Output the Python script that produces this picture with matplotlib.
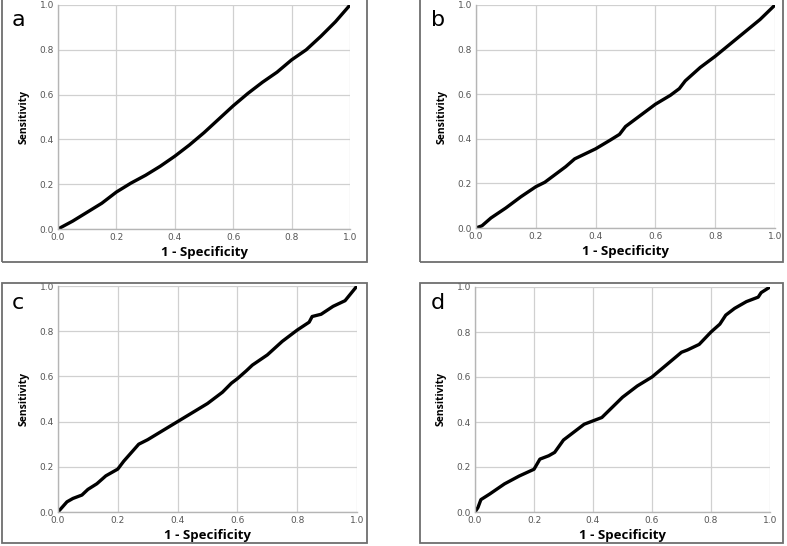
import matplotlib.pyplot as plt
from matplotlib.patches import Rectangle

# ── ROC curve points ──────────────────────────────────────────────────────────
fpr_a = [0.0, 0.05, 0.10, 0.15, 0.20, 0.25, 0.30, 0.35, 0.40, 0.45, 0.50,
         0.55, 0.60, 0.65, 0.70, 0.75, 0.80, 0.85, 0.90, 0.95, 1.0]
tpr_a = [0.0, 0.035, 0.075, 0.115, 0.165, 0.205, 0.24, 0.28, 0.325, 0.375, 0.43,
         0.49, 0.55, 0.605, 0.655, 0.70, 0.755, 0.80, 0.86, 0.925, 1.0]

fpr_b = [0.0, 0.02, 0.05, 0.10, 0.15, 0.20, 0.23, 0.30, 0.33, 0.40, 0.45, 0.48,
         0.50, 0.55, 0.60, 0.65, 0.68, 0.70, 0.75, 0.80, 0.85, 0.90, 0.95, 1.0]
tpr_b = [0.0, 0.01, 0.045, 0.09, 0.14, 0.185, 0.205, 0.275, 0.31, 0.355, 0.395, 0.42,
         0.455, 0.505, 0.555, 0.595, 0.625, 0.66, 0.72, 0.77, 0.825, 0.88, 0.935, 1.0]

fpr_c = [0.0, 0.01, 0.03, 0.05, 0.08, 0.10, 0.13, 0.16, 0.20, 0.22, 0.25, 0.27,
         0.30, 0.35, 0.40, 0.45, 0.50, 0.55, 0.58, 0.60, 0.63, 0.65, 0.70, 0.75,
         0.80, 0.84, 0.85, 0.88, 0.92, 0.96, 1.0]
tpr_c = [0.0, 0.015, 0.045, 0.06, 0.075, 0.10, 0.125, 0.16, 0.19, 0.225, 0.27, 0.30,
         0.32, 0.36, 0.40, 0.44, 0.48, 0.53, 0.57, 0.59, 0.625, 0.65, 0.695, 0.755,
         0.805, 0.84, 0.865, 0.875, 0.91, 0.935, 1.0]

fpr_d = [0.0, 0.01, 0.02, 0.05, 0.10, 0.15, 0.20, 0.22, 0.25, 0.27, 0.30, 0.35,
         0.37, 0.40, 0.43, 0.50, 0.55, 0.60, 0.65, 0.70, 0.72, 0.76, 0.80, 0.83,
         0.85, 0.88, 0.92, 0.96, 0.97, 1.0]
tpr_d = [0.0, 0.02, 0.055, 0.08, 0.125, 0.16, 0.19, 0.235, 0.25, 0.265, 0.32, 0.37,
         0.39, 0.405, 0.42, 0.51, 0.56, 0.60, 0.655, 0.71, 0.72, 0.745, 0.80, 0.835,
         0.875, 0.905, 0.935, 0.955, 0.975, 1.0]

panel_labels = ["a", "b", "c", "d"]
ticks = [0.0, 0.2, 0.4, 0.6, 0.8, 1.0]
tick_labels = ["0.0", "0.2", "0.4", "0.6", "0.8", "1.0"]

W, H = 787, 546
fig = plt.figure(figsize=(W / 100, H / 100), dpi=100)

def fx(px):
    return px / W

def fy(py):
    return 1 - py / H

# panel frames (pixel boxes: left, top, right, bottom)
frames = [(2, -5, 367, 262), (420, -5, 783, 262), (2, 283, 367, 543), (420, 283, 783, 543)]
# axes areas (pixel boxes)
boxes = [(58, 5, 350, 229), (476, 5, 775, 228), (58, 286, 357, 512), (475, 287, 770, 512)]
letters_pos = [(12, 20), (431, 20), (12, 303), (431, 303)]
data = [(fpr_a, tpr_a), (fpr_b, tpr_b), (fpr_c, tpr_c), (fpr_d, tpr_d)]

for (l, t, r, b) in frames:
    fig.patches.append(Rectangle((fx(l), fy(b)), fx(r - l), (b - t) / H,
                                 transform=fig.transFigure, fill=False,
                                 edgecolor="#6e6e6e", lw=1.3))

for i, ((l, t, r, b), (xs, ys)) in enumerate(zip(boxes, data)):
    ax = fig.add_axes([fx(l), fy(b), fx(r - l), (b - t) / H])
    ax.plot(xs, ys, color="black", lw=2.4, solid_capstyle="round")
    ax.set_xlim(0, 1)
    ax.set_ylim(0, 1)
    ax.set_xticks(ticks)
    ax.set_yticks(ticks)
    ax.set_xticklabels(tick_labels)
    ax.set_yticklabels(tick_labels)
    ax.tick_params(length=0, labelsize=6.5, labelcolor="#555555", pad=3)
    ax.grid(True, color="#d0d0d0", lw=0.9)
    ax.set_axisbelow(True)
    for s in ["top", "right"]:
        ax.spines[s].set_visible(False)
    for s in ["left", "bottom"]:
        ax.spines[s].set_color("#b5b5b5")
        ax.spines[s].set_linewidth(1.0)
    ax.set_xlabel("1 - Specificity", fontsize=9.5, fontweight="bold",
                  family="Open Sans", labelpad=3)
    ax.set_ylabel("Sensitivity", fontsize=7.5, fontweight="bold",
                  family="Open Sans", labelpad=7)
    lx, ly = letters_pos[i]
    fig.text(fx(lx), fy(ly), panel_labels[i], fontsize=16, family="DejaVu Sans",
             va="center", ha="left")

plt.savefig("out.png", dpi=100)
plt.close()
